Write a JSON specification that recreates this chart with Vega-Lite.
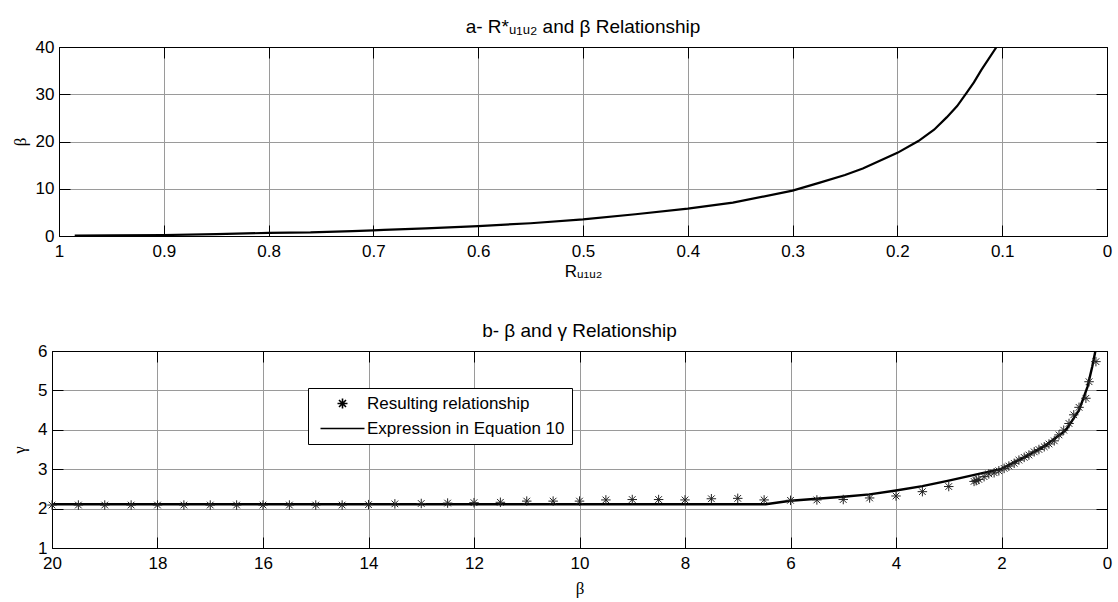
{
  "$schema": "https://vega.github.io/schema/vega-lite/v6.json",
  "background": "white",
  "padding": {"left": 9, "top": 17, "right": 5, "bottom": 2},
  "spacing": 41,
  "resolve": {"legend": {"shape": "independent"}},
  "datasets": {
    "blank": [{"k": 0}],
    "top": [
      {"R": 0.985, "beta": 0.1}, {"R": 0.95, "beta": 0.15}, {"R": 0.9, "beta": 0.2}, {"R": 0.85, "beta": 0.4},
      {"R": 0.8, "beta": 0.65}, {"R": 0.76, "beta": 0.75}, {"R": 0.72, "beta": 1.05}, {"R": 0.7, "beta": 1.2},
      {"R": 0.69, "beta": 1.3}, {"R": 0.65, "beta": 1.6}, {"R": 0.6, "beta": 2.1}, {"R": 0.55, "beta": 2.7},
      {"R": 0.5, "beta": 3.5}, {"R": 0.45, "beta": 4.6}, {"R": 0.4, "beta": 5.8}, {"R": 0.357, "beta": 7.05},
      {"R": 0.3, "beta": 9.6}, {"R": 0.274, "beta": 11.3}, {"R": 0.25, "beta": 12.9}, {"R": 0.233, "beta": 14.3},
      {"R": 0.2, "beta": 17.6}, {"R": 0.18, "beta": 20.1}, {"R": 0.165, "beta": 22.5}, {"R": 0.153, "beta": 25.1},
      {"R": 0.143, "beta": 27.5}, {"R": 0.134, "beta": 30.3}, {"R": 0.127, "beta": 32.5}, {"R": 0.12, "beta": 35.1},
      {"R": 0.1054, "beta": 40}
    ],
    "stars": [
      {"beta": 20, "gamma": 2.09, "series": "Resulting relationship"}, {"beta": 19.5, "gamma": 2.09, "series": "Resulting relationship"},
      {"beta": 19, "gamma": 2.09, "series": "Resulting relationship"}, {"beta": 18.5, "gamma": 2.09, "series": "Resulting relationship"},
      {"beta": 18, "gamma": 2.09, "series": "Resulting relationship"}, {"beta": 17.5, "gamma": 2.09, "series": "Resulting relationship"},
      {"beta": 17, "gamma": 2.09, "series": "Resulting relationship"}, {"beta": 16.5, "gamma": 2.09, "series": "Resulting relationship"},
      {"beta": 16, "gamma": 2.09, "series": "Resulting relationship"}, {"beta": 15.5, "gamma": 2.09, "series": "Resulting relationship"},
      {"beta": 15, "gamma": 2.09, "series": "Resulting relationship"}, {"beta": 14.5, "gamma": 2.09, "series": "Resulting relationship"},
      {"beta": 14, "gamma": 2.1, "series": "Resulting relationship"}, {"beta": 13.5, "gamma": 2.12, "series": "Resulting relationship"},
      {"beta": 13, "gamma": 2.13, "series": "Resulting relationship"}, {"beta": 12.5, "gamma": 2.14, "series": "Resulting relationship"},
      {"beta": 12, "gamma": 2.15, "series": "Resulting relationship"}, {"beta": 11.5, "gamma": 2.16, "series": "Resulting relationship"},
      {"beta": 11, "gamma": 2.19, "series": "Resulting relationship"}, {"beta": 10.5, "gamma": 2.19, "series": "Resulting relationship"},
      {"beta": 10, "gamma": 2.19, "series": "Resulting relationship"}, {"beta": 9.5, "gamma": 2.22, "series": "Resulting relationship"},
      {"beta": 9, "gamma": 2.23, "series": "Resulting relationship"}, {"beta": 8.5, "gamma": 2.23, "series": "Resulting relationship"},
      {"beta": 8, "gamma": 2.22, "series": "Resulting relationship"}, {"beta": 7.5, "gamma": 2.25, "series": "Resulting relationship"},
      {"beta": 7, "gamma": 2.26, "series": "Resulting relationship"}, {"beta": 6.5, "gamma": 2.22, "series": "Resulting relationship"},
      {"beta": 6, "gamma": 2.21, "series": "Resulting relationship"}, {"beta": 5.5, "gamma": 2.22, "series": "Resulting relationship"},
      {"beta": 5, "gamma": 2.23, "series": "Resulting relationship"}, {"beta": 4.5, "gamma": 2.27, "series": "Resulting relationship"},
      {"beta": 4, "gamma": 2.32, "series": "Resulting relationship"}, {"beta": 3.5, "gamma": 2.43, "series": "Resulting relationship"},
      {"beta": 3, "gamma": 2.56, "series": "Resulting relationship"}, {"beta": 2.52, "gamma": 2.69, "series": "Resulting relationship"},
      {"beta": 2.48, "gamma": 2.71, "series": "Resulting relationship"}, {"beta": 2.43, "gamma": 2.74, "series": "Resulting relationship"},
      {"beta": 2.33, "gamma": 2.81, "series": "Resulting relationship"}, {"beta": 2.24, "gamma": 2.88, "series": "Resulting relationship"},
      {"beta": 2.14, "gamma": 2.91, "series": "Resulting relationship"}, {"beta": 2.05, "gamma": 2.96, "series": "Resulting relationship"},
      {"beta": 1.95, "gamma": 3.02, "series": "Resulting relationship"}, {"beta": 1.86, "gamma": 3.08, "series": "Resulting relationship"},
      {"beta": 1.76, "gamma": 3.15, "series": "Resulting relationship"}, {"beta": 1.67, "gamma": 3.23, "series": "Resulting relationship"},
      {"beta": 1.57, "gamma": 3.3, "series": "Resulting relationship"}, {"beta": 1.48, "gamma": 3.36, "series": "Resulting relationship"},
      {"beta": 1.38, "gamma": 3.44, "series": "Resulting relationship"}, {"beta": 1.29, "gamma": 3.5, "series": "Resulting relationship"},
      {"beta": 1.19, "gamma": 3.57, "series": "Resulting relationship"}, {"beta": 1.1, "gamma": 3.64, "series": "Resulting relationship"},
      {"beta": 1.0, "gamma": 3.72, "series": "Resulting relationship"}, {"beta": 0.91, "gamma": 3.87, "series": "Resulting relationship"},
      {"beta": 0.82, "gamma": 3.99, "series": "Resulting relationship"}, {"beta": 0.72, "gamma": 4.16, "series": "Resulting relationship"},
      {"beta": 0.63, "gamma": 4.38, "series": "Resulting relationship"}, {"beta": 0.53, "gamma": 4.57, "series": "Resulting relationship"},
      {"beta": 0.4, "gamma": 4.8, "series": "Resulting relationship"}, {"beta": 0.34, "gamma": 5.22, "series": "Resulting relationship"},
      {"beta": 0.21, "gamma": 5.73, "series": "Resulting relationship"}
    ],
    "eq": [
      {"beta": 20, "gamma": 2.11}, {"beta": 6.47, "gamma": 2.11}, {"beta": 6.0, "gamma": 2.2}, {"beta": 5.5, "gamma": 2.25},
      {"beta": 5.0, "gamma": 2.3}, {"beta": 4.5, "gamma": 2.36}, {"beta": 4.0, "gamma": 2.46}, {"beta": 3.5, "gamma": 2.57},
      {"beta": 3.0, "gamma": 2.71}, {"beta": 2.43, "gamma": 2.88}, {"beta": 2.02, "gamma": 3.0}, {"beta": 1.54, "gamma": 3.32},
      {"beta": 1.16, "gamma": 3.61}, {"beta": 0.78, "gamma": 3.99}, {"beta": 0.53, "gamma": 4.5}, {"beta": 0.37, "gamma": 5.09},
      {"beta": 0.28, "gamma": 5.6}, {"beta": 0.22, "gamma": 6.0}
    ]
  },
  "vconcat": [
    {
      "spacing": 0,
      "hconcat": [
        {
          "width": 1, "height": 1,
          "view": {"stroke": null},
          "data": {"name": "blank"},
          "mark": {"type": "point", "opacity": 0, "size": 1}
        },
        {
          "width": 1048,
          "height": 189,
          "title": {"text": "a- R*ᵤ₁ᵤ₂ and β Relationship", "offset": 1},
          "data": {"name": "top"},
          "layer": [
            {
              "mark": {"type": "line", "color": "black", "strokeWidth": 2.2, "clip": true},
              "encoding": {
                "x": {"field": "R", "type": "quantitative",
                  "scale": {"domain": [0, 1], "reverse": true, "nice": false, "zero": false},
                  "axis": {"orient": "bottom", "values": [0, 0.1, 0.2, 0.3, 0.4, 0.5, 0.6, 0.7, 0.8, 0.9, 1], "format": "~g",
                    "grid": true, "title": "Rᵤ₁ᵤ₂", "titlePadding": 4, "labelPadding": 18}},
                "y": {"field": "beta", "type": "quantitative",
                  "scale": {"domain": [0, 40], "nice": false},
                  "axis": {"orient": "left", "values": [0, 10, 20, 30, 40], "grid": true, "title": "β",
                    "titleFont": "Liberation Serif", "titlePadding": 6, "labelPadding": 16}}
              }
            },
            {
              "mark": {"type": "point", "opacity": 0, "size": 4},
              "encoding": {
                "x": {"field": "R", "type": "quantitative",
                  "axis": {"orient": "top", "values": [0, 0.1, 0.2, 0.3, 0.4, 0.5, 0.6, 0.7, 0.8, 0.9, 1], "labels": false, "grid": false, "title": null}},
                "y": {"field": "beta", "type": "quantitative",
                  "axis": {"orient": "right", "values": [0, 10, 20, 30, 40], "labels": false, "grid": false, "title": null}}
              }
            }
          ],
          "resolve": {"axis": {"x": "independent", "y": "independent"}}
        }
      ]
    },
    {
      "spacing": 0,
      "resolve": {"legend": {"shape": "independent"}},
      "hconcat": [
        {
          "width": 1, "height": 1,
          "view": {"stroke": null},
          "data": {"name": "blank"},
          "mark": {"type": "point", "opacity": 0, "size": 1}
        },
        {
          "width": 1055,
          "height": 197,
          "title": {"text": "b- β and γ Relationship", "offset": 1},
          "layer": [
            {
              "data": {"name": "eq"},
              "mark": {"type": "line", "color": "black", "strokeWidth": 2.4, "clip": true},
              "encoding": {
                "x": {"field": "beta", "type": "quantitative",
                  "scale": {"domain": [0, 20], "reverse": true, "nice": false, "zero": false},
                  "axis": {"orient": "bottom", "values": [0, 2, 4, 6, 8, 10, 12, 14, 16, 18, 20], "grid": true,
                    "title": "β", "titleFont": "Liberation Serif", "titlePadding": 9, "labelPadding": 18}},
                "y": {"field": "gamma", "type": "quantitative",
                  "scale": {"domain": [1, 6], "nice": false, "zero": false},
                  "axis": {"orient": "left", "values": [1, 2, 3, 4, 5, 6], "grid": true, "title": "γ",
                    "titleFont": "Liberation Serif", "titlePadding": 9, "labelPadding": 16}}
              }
            },
            {
              "data": {"name": "stars"},
              "mark": {"type": "point", "filled": false, "color": "#222222", "strokeWidth": 1, "size": 90, "opacity": 1},
              "encoding": {
                "x": {"field": "beta", "type": "quantitative",
                  "axis": {"orient": "top", "values": [0, 2, 4, 6, 8, 10, 12, 14, 16, 18, 20], "labels": false, "grid": false, "title": null}},
                "y": {"field": "gamma", "type": "quantitative",
                  "axis": {"orient": "right", "values": [1, 2, 3, 4, 5, 6], "labels": false, "grid": false, "title": null}},
                "shape": {"field": "series", "type": "nominal",
                  "scale": {"domain": ["Resulting relationship", "Expression in Equation 10"],
                    "range": ["M-1,0L1,0M0,-1L0,1M-0.7,-0.7L0.7,0.7M-0.7,0.7L0.7,-0.7", "M-4.4,0L4.4,0"]},
                  "legend": {"orient": "none", "legendX": 256, "legendY": 37, "title": null,
                    "labelFontSize": 17, "labelFont": "Liberation Sans", "labelColor": "black", "labelLimit": 500,
                    "symbolStrokeColor": "black", "symbolFillColor": "transparent", "symbolSize": 100, "symbolStrokeWidth": 1.6,
                    "strokeColor": "black", "fillColor": "white", "padding": 7, "symbolOffset": 19, "labelOffset": 16, "rowPadding": 7, "cornerRadius": 0}}
              }
            }
          ],
          "resolve": {"axis": {"x": "independent", "y": "independent"}}
        }
      ]
    }
  ],
  "config": {
    "font": "Liberation Sans",
    "view": {"stroke": "black", "strokeWidth": 1},
    "title": {"font": "Liberation Sans", "fontSize": 19, "fontWeight": "normal", "color": "black", "anchor": "middle", "baseline": "alphabetic"},
    "axis": {
      "domainColor": "black", "domainWidth": 1, "tickColor": "black", "tickSize": -11, "tickWidth": 1,
      "gridColor": "#9a9a9a", "gridWidth": 1, "gridOpacity": 1,
      "labelFont": "Liberation Sans", "labelFontSize": 17, "labelColor": "black", "labelFlush": false, "labelOverlap": false, "labelBound": false,
      "titleFont": "Liberation Sans", "titleFontSize": 17, "titleFontWeight": "normal", "titleColor": "black"
    }
  }
}
